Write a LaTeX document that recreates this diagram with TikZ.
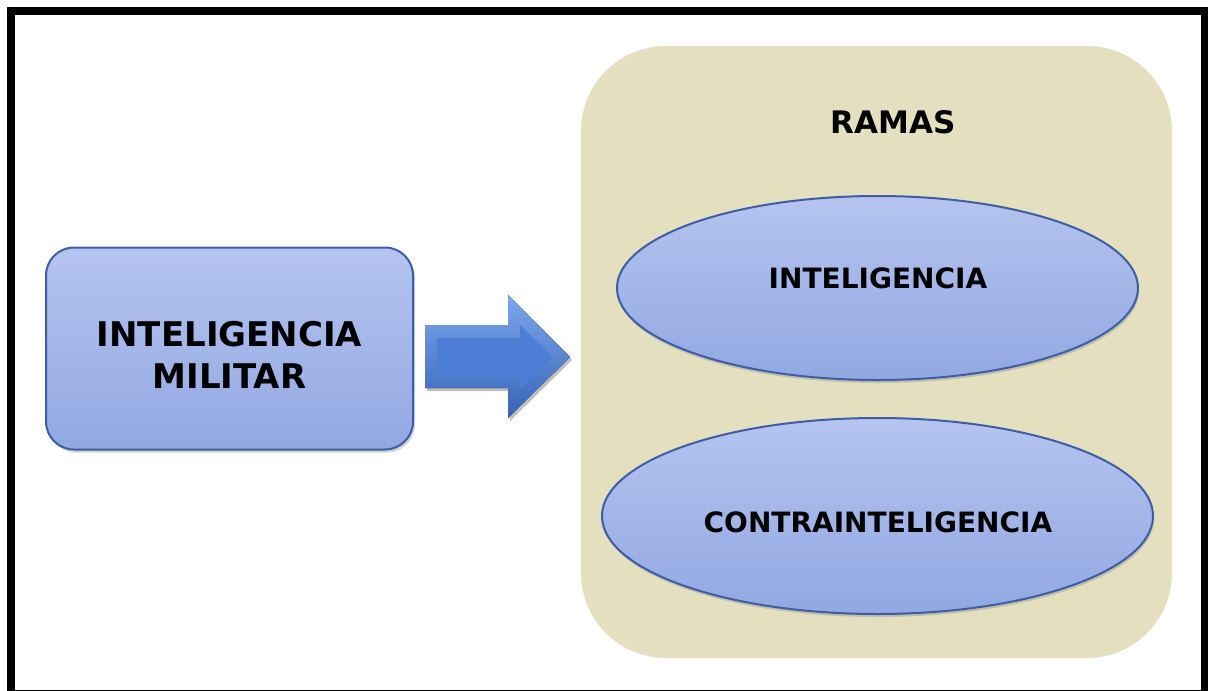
\documentclass[tikz,border=0pt]{standalone}
\usepackage{fontspec}
\setmainfont{DejaVu Sans}
\usetikzlibrary{shapes.geometric,shadows,positioning}

\definecolor{boxtop}{HTML}{B5C4EF}
\definecolor{boxbot}{HTML}{92A8E2}
\definecolor{boxline}{HTML}{3C5EA6}
\definecolor{panelfill}{HTML}{E3DFBF}
\definecolor{arrtop}{HTML}{7DA7EC}
\definecolor{arrbot}{HTML}{3563B8}
\definecolor{arrmid}{HTML}{4C7ED5}

\begin{document}
\begin{tikzpicture}[x=1pt, y=-1pt,
    mainbox/.style = {rectangle, rounded corners=28pt, draw=boxline, line width=2pt,
                      top color=boxtop, bottom color=boxbot,
                      drop shadow={opacity=0.35, shadow xshift=2pt, shadow yshift=-3pt}},
    oval/.style    = {ellipse, draw=boxline, line width=2pt,
                      top color=boxtop, bottom color=boxbot,
                      drop shadow={opacity=0.35, shadow xshift=1pt, shadow yshift=-3pt}},
    panelbox/.style = {rectangle, rounded corners=85pt, fill=panelfill},
    bigtext/.style  = {font=\fontsize{34}{42}\selectfont\bfseries, align=center},
    ovaltext/.style = {font=\fontsize{28}{34}\selectfont\bfseries}]
    \useasboundingbox (0,0) rectangle (1208,691);
    \fill[white] (0,0) rectangle (1208,691);

    % outer frame
    \draw[line width=8pt] (11,11) rectangle (1205,694);

    % left block
    \node[mainbox, minimum width=367pt, minimum height=202pt] (milit) at (229.5,348.5) {};
    \node[bigtext] (militT) at (229.5,355) {INTELIGENCIA\\MILITAR};

    % right panel
    \node[panelbox, minimum width=591pt, minimum height=612pt] (ramas) at (876.5,352) {};
    \node[font=\fontsize{31}{36}\selectfont\bfseries] (ramasT) at (893,122) {RAMAS};

    \node[oval, minimum width=521pt, minimum height=184pt] (intel) at (877.5,288) {};
    \node[ovaltext] (intelT) at (878,278) {INTELIGENCIA};

    \node[oval, minimum width=551pt, minimum height=196pt] (contra) at (877.5,516) {};
    \node[ovaltext] (contraT) at (878,522) {CONTRAINTELIGENCIA};

    % block arrow
    \fill[black, opacity=0.25] (427,328) -- (510,328) -- (510,298) -- (572,360)
        -- (510,421) -- (510,391) -- (427,391) -- cycle;
    \fill[top color=arrtop, bottom color=arrbot] (425,325) -- (508,325) -- (508,295)
        -- (570,357) -- (508,418) -- (508,388) -- (425,388) -- cycle;
    \fill[arrmid] (437,338) -- (520,338) -- (520,325) -- (552,357) -- (520,389)
        -- (520,376) -- (437,376) -- cycle;
\end{tikzpicture}
\end{document}
